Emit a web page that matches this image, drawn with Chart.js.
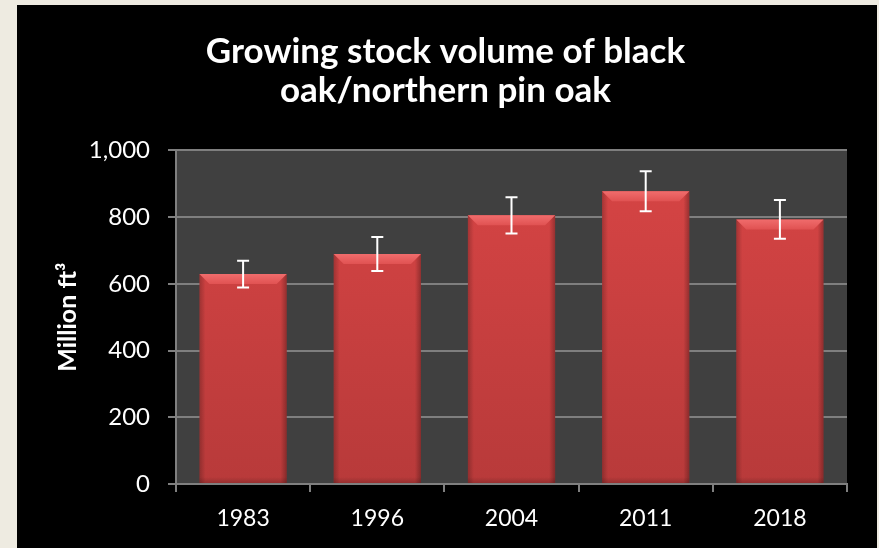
<!DOCTYPE html>
<html>
<head>
<meta charset="utf-8">
<script src="https://cdn.jsdelivr.net/npm/chart.js@4"></script>
<style>
  html, body { margin: 0; padding: 0; background: #eeebe1; }
  #frame { position: absolute; left: 17px; top: 5px; width: 860px; height: 543px; background: #000; }
</style>
</head>
<body>
<div id="frame"><canvas id="volumeChart" width="860" height="543"></canvas></div>
<script>
// Chart data
const years = ["1983", "1996", "2004", "2011", "2018"];
const volumes = [629, 689, 805, 877, 793];
const errors = [40, 51, 54, 60, 58];

const titleLines = ["Growing stock volume of black", "oak/northern pin oak"];
const yTitle = "Million ft\u00B3";

const gridColor = "#7f7f7f";
const fontFamily = "Lato, 'Open Sans', sans-serif";


// gray plot area behind the bars
const plotBackground = {
  id: "plotBackground",
  beforeDraw(chart) {
    const { ctx, chartArea: a } = chart;
    ctx.save();
    ctx.fillStyle = "#404040";
    ctx.fillRect(a.left, a.top, a.right - a.left, a.bottom - a.top);
    ctx.restore();
  }
};

// bevel look on the bars + error bars on top
const barExtras = {
  id: "barExtras",
  afterDatasetsDraw(chart) {
    const ctx = chart.ctx;
    const meta = chart.getDatasetMeta(0);
    const yScale = chart.scales.y;

    ctx.save();
    meta.data.forEach((bar, i) => {
      const left = bar.x - bar.width / 2;
      const right = bar.x + bar.width / 2;
      const top = bar.y;
      const base = bar.base;
      const b = 10;
      const s = 6;

      // soft darker sides
      let g = ctx.createLinearGradient(left, 0, left + s, 0);
      g.addColorStop(0, "rgba(0,0,0,0.22)");
      g.addColorStop(1, "rgba(0,0,0,0)");
      ctx.fillStyle = g;
      ctx.fillRect(left, top, s, base - top);

      g = ctx.createLinearGradient(right, 0, right - s, 0);
      g.addColorStop(0, "rgba(0,0,0,0.28)");
      g.addColorStop(1, "rgba(0,0,0,0)");
      ctx.fillStyle = g;
      ctx.fillRect(right - s, top, s, base - top);

      g = ctx.createLinearGradient(0, base, 0, base - s);
      g.addColorStop(0, "rgba(0,0,0,0.18)");
      g.addColorStop(1, "rgba(0,0,0,0)");
      ctx.fillStyle = g;
      ctx.fillRect(left, base - s, right - left, s);

      // top bevel
      g = ctx.createLinearGradient(0, top, 0, top + b);
      g.addColorStop(0, "#f06c6c");
      g.addColorStop(1, "#e05252");
      ctx.fillStyle = g;
      ctx.beginPath();
      ctx.moveTo(left, top);
      ctx.lineTo(right, top);
      ctx.lineTo(right - b, top + b);
      ctx.lineTo(left + b, top + b);
      ctx.closePath();
      ctx.fill();

      // error bar
      const yHi = yScale.getPixelForValue(volumes[i] + errors[i]);
      const yLo = yScale.getPixelForValue(volumes[i] - errors[i]);
      const cap = 6;
      ctx.strokeStyle = "#ffffff";
      ctx.lineWidth = 2;
      ctx.beginPath();
      ctx.moveTo(bar.x, yHi);
      ctx.lineTo(bar.x, yLo);
      ctx.moveTo(bar.x - cap, yHi);
      ctx.lineTo(bar.x + cap, yHi);
      ctx.moveTo(bar.x - cap, yLo);
      ctx.lineTo(bar.x + cap, yLo);
      ctx.stroke();
    });
    ctx.restore();
  }
};


function barFill(context) {
  const chart = context.chart;
  const a = chart.chartArea;
  if (!a) return "#d44343";
  const g = chart.ctx.createLinearGradient(0, a.top, 0, a.bottom);
  g.addColorStop(0, "#d84545");
  g.addColorStop(1, "#b83a3a");
  return g;
}


const ctx = document.getElementById("volumeChart").getContext("2d");

new Chart(ctx, {
  type: "bar",
  data: {
    labels: years,
    datasets: [{
      data: volumes,
      backgroundColor: barFill,
      borderWidth: 0,
      barPercentage: 0.65,
      categoryPercentage: 1
    }]
  },
  options: {
    responsive: false,
    animation: false,
    layout: {
      padding: { left: 27, right: 30, top: 0, bottom: 0 }
    },
    plugins: {
      legend: { display: false },
      tooltip: { enabled: false },
      title: {
        display: true,
        text: titleLines,
        color: "#ffffff",
        font: { family: fontFamily, size: 35, weight: "bold", lineHeight: 1.09 },
        padding: { top: 28, bottom: 41 }
      }
    },
    scales: {
      x: {
        offset: true,
        grid: {
          offset: true,
          drawOnChartArea: false,
          color: gridColor,
          lineWidth: 2,
          tickLength: 8
        },
        border: { color: gridColor, width: 2 },
        ticks: {
          color: "#ffffff",
          padding: 13,
          font: { family: fontFamily, size: 23 }
        },
        afterFit(scale) { scale.height = 64; }
      },
      y: {
        min: 0,
        max: 1000,
        ticks: {
          stepSize: 200,
          color: "#ffffff",
          padding: 18,
          font: { family: fontFamily, size: 24 },
          callback: v => v.toLocaleString("en-US")
        },
        grid: {
          color: gridColor,
          lineWidth: 2,
          tickLength: 8
        },
        border: { color: gridColor, width: 2 },
        title: {
          display: true,
          text: yTitle,
          color: "#ffffff",
          font: { family: fontFamily, size: 25, weight: "bold" },
          padding: { top: 9, bottom: 0 }
        },
        afterFit(scale) { scale.width = 132; }
      }
    }
  },
  plugins: [plotBackground, barExtras]
});
</script>
</body>
</html>
